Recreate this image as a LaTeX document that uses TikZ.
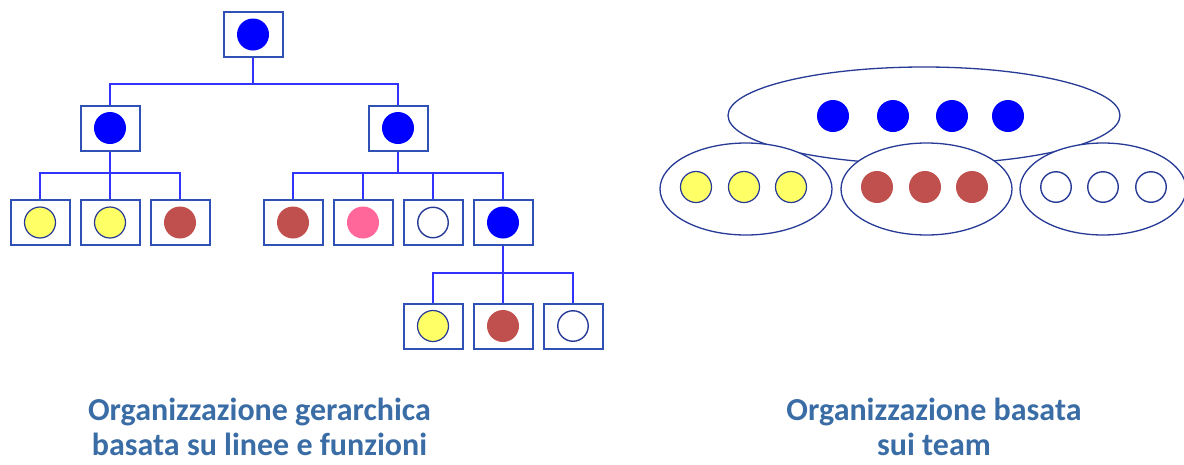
\documentclass[tikz,border=0pt]{standalone}
\usepackage{fontspec}
\setmainfont{Carlito}
\usepackage{xcolor}
\usetikzlibrary{shapes.geometric}
\definecolor{ramoblu}{RGB}{51,51,255}
\definecolor{bordocasella}{RGB}{47,80,180}
\definecolor{bordoteam}{RGB}{38,58,150}
\definecolor{pblu}{RGB}{0,0,255}
\definecolor{pgiallo}{RGB}{255,255,102}
\definecolor{pmarrone}{RGB}{192,80,77}
\definecolor{prosa}{RGB}{255,102,153}
\definecolor{titoloblu}{RGB}{58,108,165}
\tikzset{
  casella/.style={draw=bordocasella, line width=2pt, fill=white, minimum width=59pt, minimum height=45pt, inner sep=0pt},
  ramo/.style={draw=ramoblu, line width=2pt},
  pallino/.style={circle, inner sep=0pt, minimum size=32pt},
  blu/.style={pallino, fill=pblu},
  giallo/.style={pallino, fill=pgiallo, draw=bordoteam, line width=1.2pt, minimum size=31pt},
  marrone/.style={pallino, fill=pmarrone},
  rosa/.style={pallino, fill=prosa},
  bianco/.style={pallino, fill=white, draw=bordoteam, line width=1.4pt, minimum size=30.5pt},
  gruppo/.style={ellipse, draw=bordoteam, line width=1.3pt, fill=white, inner sep=0pt},
  titolo/.style={font=\fontsize{32}{35}\selectfont\bfseries, text=titoloblu, align=center, anchor=base}
}

\begin{document}
\begin{tikzpicture}[x=1pt, y=-1pt]
    \useasboundingbox (0,0) rectangle (1184,464);
    % Parametri
    \pgfmathsetmacro{\yzero}{34.5}
    \pgfmathsetmacro{\yuno}{128}
    \pgfmathsetmacro{\ydue}{222.5}
    \pgfmathsetmacro{\ytre}{326}
    % Caselle dell'organigramma
    \node[casella] (capo) at (253,\yzero) {};
    \node[casella] (s1) at (110,\yuno) {};
    \node[casella] (d1) at (398,\yuno) {};
    \node[casella] (s11) at (40,\ydue) {};
    \node[casella] (s12) at (110,\ydue) {};
    \node[casella] (s13) at (180,\ydue) {};
    \node[casella] (d11) at (293,\ydue) {};
    \node[casella] (d12) at (363,\ydue) {};
    \node[casella] (d13) at (433,\ydue) {};
    \node[casella] (d14) at (503,\ydue) {};
    \node[casella] (d141) at (433,\ytre) {};
    \node[casella] (d142) at (503,\ytre) {};
    \node[casella] (d143) at (573,\ytre) {};
    % Persone nelle caselle
    \node[blu] (pcapo) at (capo) {};
    \node[blu] (ps1) at (s1) {};
    \node[blu] (pd1) at (d1) {};
    \node[giallo] (ps11) at (s11) {};
    \node[giallo] (ps12) at (s12) {};
    \node[marrone] (ps13) at (s13) {};
    \node[marrone] (pd11) at (d11) {};
    \node[rosa] (pd12) at (d12) {};
    \node[bianco] (pd13) at (d13) {};
    \node[blu] (pd14) at (d14) {};
    \node[giallo] (pd141) at (d141) {};
    \node[marrone] (pd142) at (d142) {};
    \node[bianco] (pd143) at (d143) {};
    % Rami
    \draw[ramo] (capo.south) -- ++(0,26) coordinate (g0) -| (s1.north);
    \draw[ramo] (g0) -| (d1.north);
    \draw[ramo] (s1.south) -- ++(0,21) coordinate (g1) -- (s12.north);
    \draw[ramo] (g1) -| (s11.north);
    \draw[ramo] (g1) -| (s13.north);
    \draw[ramo] (d1.south) -- ++(0,21) coordinate (g2);
    \draw[ramo] (g2) -| (d11.north);
    \draw[ramo] (g2) -| (d12.north);
    \draw[ramo] (g2) -| (d13.north);
    \draw[ramo] (g2) -| (d14.north);
    \draw[ramo] (d14.south) -- ++(0,27) coordinate (g3) -- (d142.north);
    \draw[ramo] (g3) -| (d141.north);
    \draw[ramo] (g3) -| (d143.north);
    % Team
    \node[gruppo, minimum width=392pt, minimum height=97pt] (direzione) at (924,115.5) {};
    \node[gruppo, minimum width=172pt, minimum height=92pt] (teamg) at (746,189) {};
    \node[gruppo, minimum width=171pt, minimum height=92pt] (teamm) at (926.5,189) {};
    \node[gruppo, minimum width=166pt, minimum height=92pt] (teamb) at (1103,189) {};
    \node[blu] (t1) at (833,116) {};
    \node[blu] (t2) at (893,116) {};
    \node[blu] (t3) at (952,116) {};
    \node[blu] (t4) at (1008,116) {};
    \node[giallo] (tg1) at (696,187) {};
    \node[giallo] (tg2) at (744,187) {};
    \node[giallo] (tg3) at (791,187) {};
    \node[marrone] (tm1) at (877,187) {};
    \node[marrone] (tm2) at (925,187) {};
    \node[marrone] (tm3) at (972,187) {};
    \node[bianco] (tb1) at (1056,187) {};
    \node[bianco] (tb2) at (1103,187) {};
    \node[bianco] (tb3) at (1151,187) {};
    % Didascalie (ancorate alla seconda riga)
    \node[titolo] (didsx) at (259.5,455) {Organizzazione gerarchica\\basata su linee e funzioni};
    \node[titolo] (diddx) at (934,455) {Organizzazione basata\\sui team};
\end{tikzpicture}
\end{document}
